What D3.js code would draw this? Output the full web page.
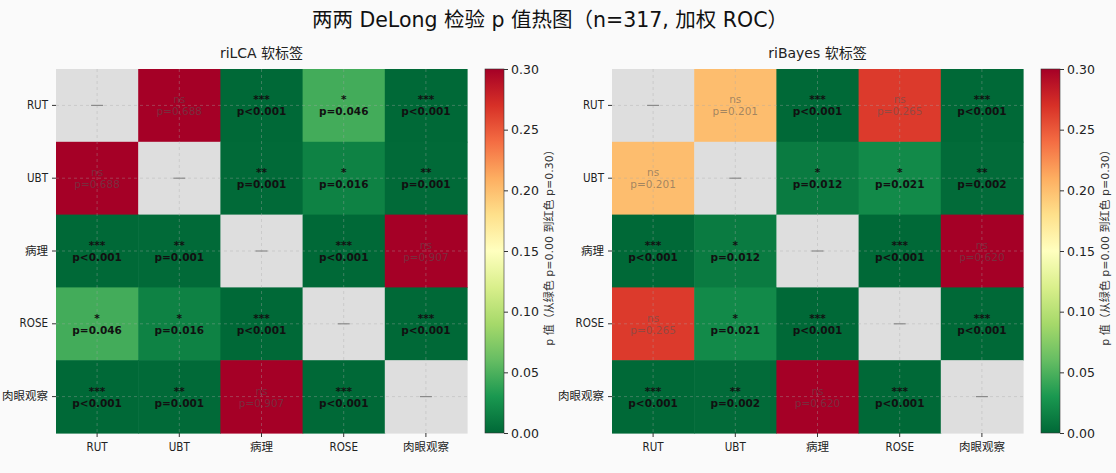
<!DOCTYPE html>
<html>
<head>
<meta charset="utf-8">
<script src="https://cdn.jsdelivr.net/npm/d3@7"></script>
<style>
  html, body { margin: 0; padding: 0; background: #fafafa; }
  svg { display: block; }
  .tick text { font-family: "DejaVu Sans", "Noto Sans CJK SC", sans-serif; font-stretch: condensed; }
</style>
</head>
<body>
<svg id="chart" width="1116" height="473"></svg>
<script>
// Methods compared pairwise
const methods = ["RUT", "UBT", "病理", "ROSE", "肉眼观察"];

// DeLong p values (symmetric, diagonal empty); 0.0005 stands for p<0.001
const pLCA = [
  [null,   0.688,  0.0005, 0.046,  0.0005],
  [0.688,  null,   0.001,  0.016,  0.001 ],
  [0.0005, 0.001,  null,   0.0005, 0.907 ],
  [0.046,  0.016,  0.0005, null,   0.0005],
  [0.0005, 0.001,  0.907,  0.0005, null  ]
];
const pBayes = [
  [null,   0.201,  0.0005, 0.265,  0.0005],
  [0.201,  null,   0.012,  0.021,  0.002 ],
  [0.0005, 0.012,  null,   0.0005, 0.620 ],
  [0.265,  0.021,  0.0005, null,   0.0005],
  [0.0005, 0.002,  0.620,  0.0005, null  ]
];

const panelTitles = ["riLCA 软标签", "riBayes 软标签"];
const colorbarTicks = [0.00, 0.05, 0.10, 0.15, 0.20, 0.25, 0.30];
const pMax = 0.30;

// RdYlGn stops, reversed so that small p is green and large p is red
const rdYlGn = ["#a50026","#d73027","#f46d43","#fdae61","#fee08b","#ffffbf",
                "#d9ef8b","#a6d96a","#66bd63","#1a9850","#006837"];
const stops = rdYlGn.slice().reverse();
const color = d3.scaleLinear()
  .domain(stops.map((_, i) => pMax * i / (stops.length - 1)))
  .range(stops)
  .interpolate(d3.interpolateRgb)
  .clamp(true);

const svg = d3.select("#chart");
const cjk = "\"DejaVu Sans\", \"Noto Sans CJK SC\", sans-serif";

svg.append("text")
  .attr("x", 550).attr("y", 20)
  .attr("text-anchor", "middle").attr("dominant-baseline", "central")
  .style("font-family", cjk)
  .style("font-size", "20.5px").attr("fill", "#111")
  .text("两两 DeLong 检验 p 值热图（n=317, 加权 ROC）");

function stars(p) {
  if (p < 0.001) return "***";
  if (p < 0.01) return "**";
  if (p < 0.05) return "*";
  return "ns";
}
function pLabel(p) {
  return p < 0.001 ? "p<0.001" : "p=" + p.toFixed(3);
}

function drawPanel(matrix, title, left, gradId) {
  const top = 69, bottom = 433, right = left + 411;
  const x = d3.scaleBand().domain(methods).range([left, right]);
  const y = d3.scaleBand().domain(methods).range([top, bottom]);
  const g = svg.append("g");

  g.append("text")
    .attr("x", (left + right) / 2).attr("y", 53)
    .attr("text-anchor", "middle").attr("dominant-baseline", "central")
    .style("font-family", cjk)
    .style("font-size", "14px").attr("fill", "#222")
    .text(title);

  const cells = [];
  matrix.forEach((row, i) => row.forEach((p, j) => cells.push({ r: methods[i], c: methods[j], p })));

  g.selectAll("rect.cell").data(cells).join("rect")
    .attr("class", "cell")
    .attr("x", d => x(d.c)).attr("y", d => y(d.r))
    .attr("width", x.bandwidth() + 0.6).attr("height", y.bandwidth() + 0.6)
    .attr("fill", d => d.p === null ? "#dedede" : color(d.p));

  // dashed grid through the tick positions
  const grid = g.append("g").attr("stroke", "#a8a8a8").attr("stroke-opacity", 0.45)
    .attr("stroke-dasharray", "3,3").attr("stroke-width", 0.8);
  methods.forEach(m => {
    const cx = x(m) + x.bandwidth() / 2, cy = y(m) + y.bandwidth() / 2;
    grid.append("line").attr("x1", cx).attr("x2", cx).attr("y1", top).attr("y2", bottom);
    grid.append("line").attr("x1", left).attr("x2", right).attr("y1", cy).attr("y2", cy);
  });

  // annotations
  cells.forEach(d => {
    const cx = x(d.c) + x.bandwidth() / 2, cy = y(d.r) + y.bandwidth() / 2;
    if (d.p === null) {
      g.append("line").attr("x1", cx - 6).attr("x2", cx + 6)
        .attr("y1", cy).attr("y2", cy)
        .attr("stroke", "#8a8a8a").attr("stroke-width", 1.2);
      return;
    }
    const sig = d.p < 0.05;
    const t = g.append("g")
      .attr("fill", sig ? "#111" : "#555")
      .attr("fill-opacity", sig ? 1 : 0.55)
      .style("font-family", "\"DejaVu Sans\", sans-serif")
      .style("font-size", "10.5px")
      .style("font-weight", sig ? "bold" : "normal")
      .attr("text-anchor", "middle");
    t.append("text").attr("x", cx).attr("y", cy - 6).attr("dominant-baseline", "central").text(stars(d.p));
    t.append("text").attr("x", cx).attr("y", cy + 6).attr("dominant-baseline", "central").text(pLabel(d.p));
  });

  const yAxis = g.append("g").attr("transform", `translate(${left},0)`)
    .call(d3.axisLeft(y).tickSize(4).tickPadding(4));
  const xAxis = g.append("g").attr("transform", `translate(0,${bottom})`)
    .call(d3.axisBottom(x).tickSize(4).tickPadding(6));
  [xAxis, yAxis].forEach(a => {
    a.select(".domain").remove();
    a.selectAll(".tick line").attr("stroke", "#333");
    a.selectAll(".tick text").attr("fill", "#222").style("font-size", "11.5px");
  });

  // colour bar
  const cbX = right + 18, cbW = 19;
  const grad = svg.append("defs").append("linearGradient")
    .attr("id", gradId).attr("x1", 0).attr("x2", 0).attr("y1", 1).attr("y2", 0);
  stops.forEach((c, i) => grad.append("stop")
    .attr("offset", i / (stops.length - 1)).attr("stop-color", c));
  g.append("rect").attr("x", cbX).attr("y", top).attr("width", cbW).attr("height", bottom - top)
    .attr("fill", `url(#${gradId})`).attr("stroke", "#333").attr("stroke-width", 0.6);

  const cbScale = d3.scaleLinear().domain([0, pMax]).range([bottom, top]);
  const cbAxis = g.append("g").attr("transform", `translate(${cbX + cbW},0)`)
    .call(d3.axisRight(cbScale).tickValues(colorbarTicks).tickFormat(d3.format(".2f")).tickSize(4).tickPadding(3));
  cbAxis.select(".domain").remove();
  cbAxis.selectAll(".tick line").attr("stroke", "#333");
  cbAxis.selectAll(".tick text").attr("fill", "#222")
    .style("font-size", "12.5px").style("font-stretch", "normal");

  g.append("text")
    .attr("transform", `translate(${cbX + 64},${(top + bottom) / 2 - 6}) rotate(-90)`)
    .attr("text-anchor", "middle").attr("dominant-baseline", "central")
    .style("font-family", cjk).style("font-size", "11px").attr("fill", "#333")
    .text("p 值（从绿色 p=0.00 到红色 p=0.30）");
}

drawPanel(pLCA, panelTitles[0], 56, "cbLCA");
drawPanel(pBayes, panelTitles[1], 612, "cbBayes");
</script>
</body>
</html>
